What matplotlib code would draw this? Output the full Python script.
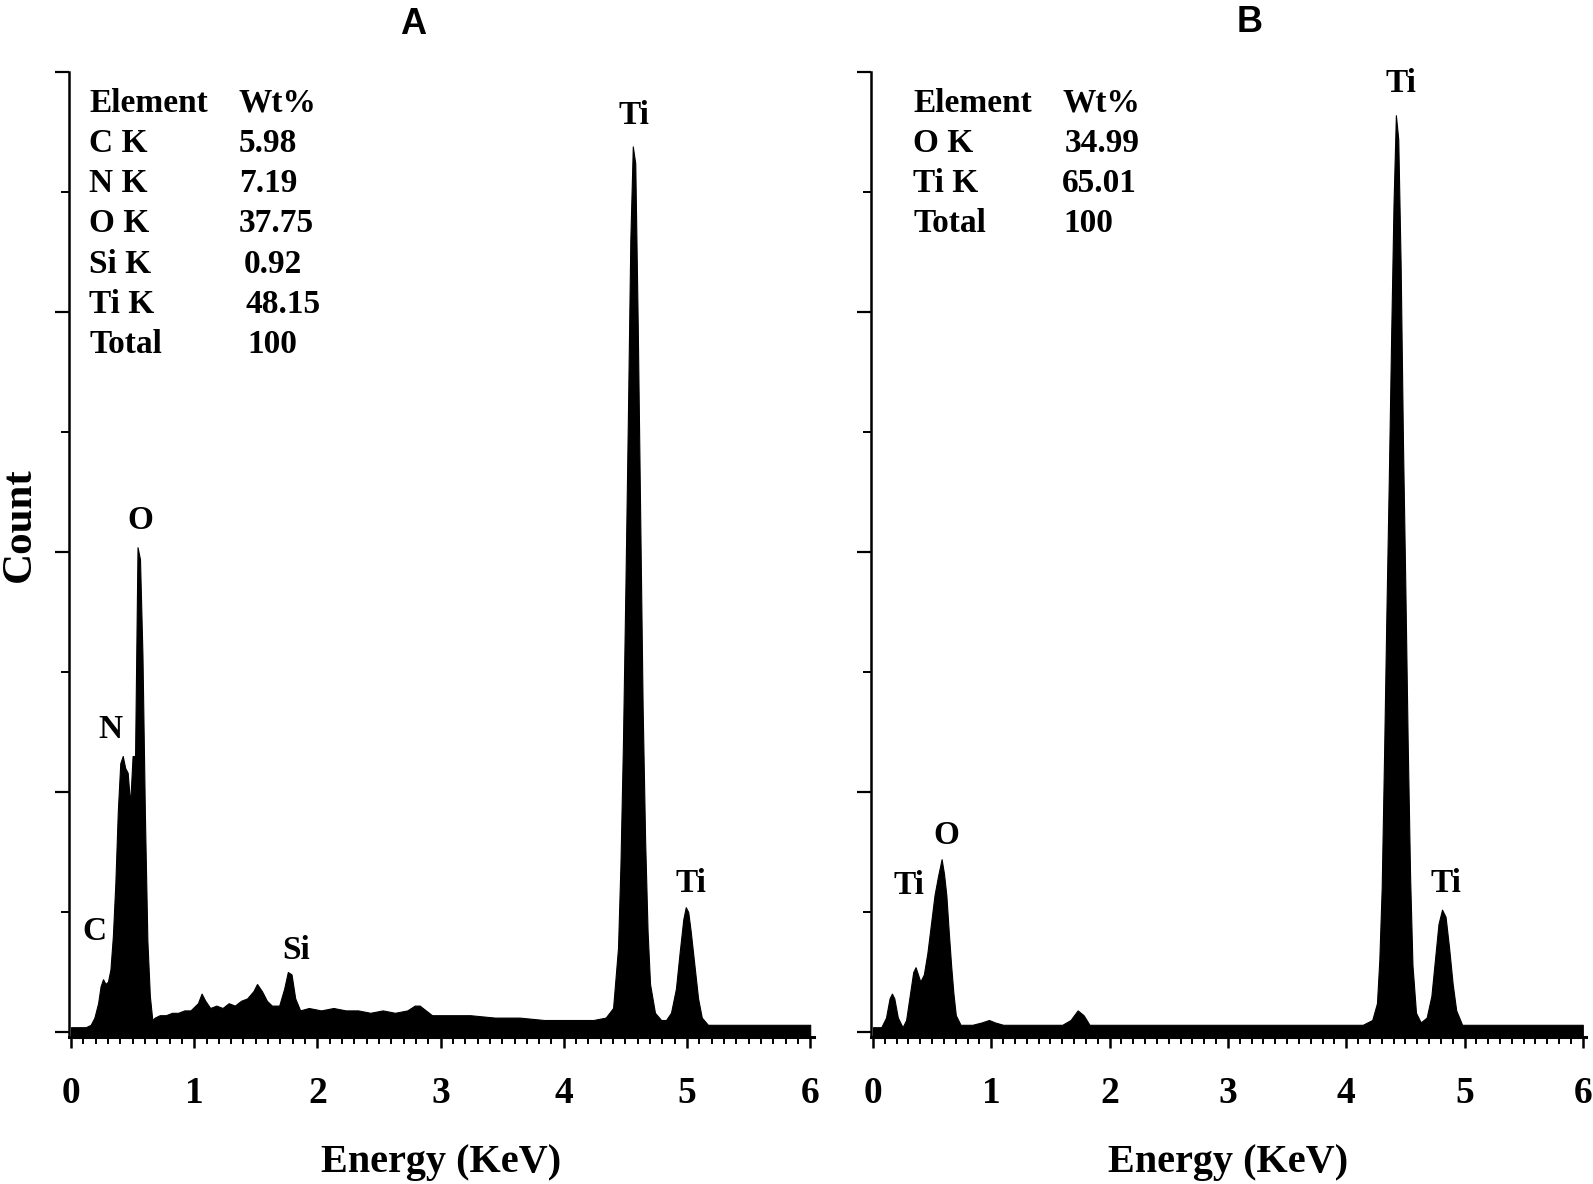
import matplotlib
matplotlib.use('Agg')
import matplotlib.pyplot as plt
import numpy as np
from matplotlib.ticker import MultipleLocator, NullFormatter

# spectrum A (energy in keV, counts in major-tick units)
a_energy = [0.00, 0.12, 0.16, 0.19, 0.22, 0.24, 0.26, 0.28, 0.30, 0.32, 0.34, 0.36, 0.38, 0.40,
            0.42, 0.44, 0.46, 0.48, 0.50, 0.52, 0.54, 0.56, 0.58, 0.60, 0.62, 0.64, 0.66, 0.68,
            0.72, 0.77, 0.82, 0.87, 0.92, 0.97, 1.03, 1.06, 1.09, 1.13, 1.18, 1.23, 1.28, 1.33,
            1.38, 1.43, 1.48, 1.51, 1.55, 1.59, 1.63, 1.69, 1.73, 1.76, 1.79, 1.82, 1.86, 1.93,
            2.03, 2.13, 2.23, 2.33, 2.43, 2.53, 2.63, 2.73, 2.79, 2.83, 2.88, 2.93, 3.04, 3.24,
            3.44, 3.64, 3.84, 4.04, 4.24, 4.34, 4.40, 4.44, 4.46, 4.48, 4.50, 4.52, 4.54, 4.56,
            4.58, 4.60, 4.62, 4.64, 4.66, 4.68, 4.70, 4.74, 4.79, 4.83, 4.87, 4.91, 4.94, 4.97,
            4.99, 5.01, 5.03, 5.06, 5.09, 5.12, 5.17, 5.50, 6.00]
a_counts = [0.02, 0.02, 0.03, 0.06, 0.12, 0.19, 0.22, 0.20, 0.21, 0.26, 0.40, 0.62, 0.92, 1.12,
            1.15, 1.10, 1.08, 0.95, 1.15, 1.15, 2.02, 1.97, 1.57, 0.90, 0.38, 0.15, 0.05, 0.06,
            0.07, 0.07, 0.08, 0.08, 0.09, 0.09, 0.12, 0.16, 0.13, 0.10, 0.11, 0.10, 0.12, 0.11,
            0.13, 0.14, 0.17, 0.20, 0.17, 0.13, 0.11, 0.11, 0.18, 0.25, 0.24, 0.14, 0.09, 0.10,
            0.09, 0.10, 0.09, 0.09, 0.08, 0.09, 0.08, 0.09, 0.11, 0.11, 0.09, 0.07, 0.07, 0.07,
            0.06, 0.06, 0.05, 0.05, 0.05, 0.06, 0.10, 0.35, 0.70, 1.20, 1.85, 2.55, 3.30, 3.69,
            3.62, 2.95, 2.15, 1.35, 0.80, 0.42, 0.20, 0.08, 0.05, 0.05, 0.08, 0.18, 0.33, 0.47,
            0.52, 0.50, 0.42, 0.28, 0.14, 0.06, 0.03, 0.03, 0.03]

# spectrum B
b_energy = [0.00, 0.07, 0.11, 0.14, 0.16, 0.18, 0.21, 0.25, 0.28, 0.31, 0.34, 0.36, 0.38, 0.40,
            0.43, 0.46, 0.49, 0.52, 0.55, 0.58, 0.60, 0.62, 0.64, 0.66, 0.68, 0.70, 0.74, 0.84,
            0.92, 0.98, 1.03, 1.10, 1.35, 1.60, 1.67, 1.73, 1.78, 1.83, 2.03, 2.53, 3.03, 3.53,
            4.14, 4.22, 4.26, 4.28, 4.30, 4.32, 4.34, 4.36, 4.38, 4.40, 4.42, 4.44, 4.46, 4.48,
            4.50, 4.52, 4.54, 4.56, 4.59, 4.63, 4.68, 4.72, 4.75, 4.78, 4.81, 4.84, 4.87, 4.90,
            4.93, 4.98, 5.50, 6.00]
b_counts = [0.02, 0.02, 0.06, 0.14, 0.16, 0.14, 0.06, 0.02, 0.05, 0.15, 0.25, 0.27, 0.24, 0.21,
            0.24, 0.33, 0.45, 0.57, 0.65, 0.72, 0.66, 0.57, 0.42, 0.28, 0.16, 0.07, 0.03, 0.03,
            0.04, 0.05, 0.04, 0.03, 0.03, 0.03, 0.05, 0.09, 0.07, 0.03, 0.03, 0.03, 0.03, 0.03,
            0.03, 0.05, 0.12, 0.30, 0.60, 1.15, 1.75, 2.30, 2.90, 3.45, 3.82, 3.72, 3.20, 2.45,
            1.85, 1.20, 0.65, 0.28, 0.08, 0.04, 0.06, 0.15, 0.30, 0.45, 0.51, 0.48, 0.35, 0.20,
            0.09, 0.03, 0.03, 0.03]

# composition tables
a_elements = ['C K', 'N K', 'O K', 'Si K', 'Ti K', 'Total']
a_wt = ['5.98', '7.19', '37.75', '0.92', '48.15', '100']
b_elements = ['O K', 'Ti K', 'Total']
b_wt = ['34.99', '65.01', '100']

# peak labels (text, energy, counts)
a_peaks = [('Ti', 4.57, 3.82), ('Ti', 5.03, 0.62), ('O', 0.56, 2.13),
           ('N', 0.32, 1.26), ('C', 0.19, 0.42), ('Si', 1.83, 0.34)]
b_peaks = [('Ti', 4.46, 3.95), ('Ti', 4.84, 0.62), ('O', 0.62, 0.82), ('Ti', 0.30, 0.61)]

W, H = 1593, 1184
serif = 'Liberation Serif'
sans = 'Liberation Sans'


def px(x, y):
    return x / W, 1 - y / H


def panel(fig, rect, energy, counts, peaks, elements, wt, el_x, wt_x, title, title_xy):
    ax = fig.add_axes(rect)
    ax.fill_between(energy, counts, -0.02, color='black', linewidth=0.8, edgecolor='black')
    ax.set_xlim(-0.02, 6.03)
    ax.set_ylim(-0.02, 4.0)
    for s in ['top', 'right']:
        ax.spines[s].set_visible(False)
    ax.spines['left'].set_linewidth(1.8)
    ax.spines['bottom'].set_linewidth(2.2)
    ax.xaxis.set_major_locator(MultipleLocator(1))
    ax.xaxis.set_minor_locator(MultipleLocator(0.1))
    ax.yaxis.set_major_locator(MultipleLocator(1))
    ax.yaxis.set_minor_locator(MultipleLocator(0.5))
    ax.yaxis.set_major_formatter(NullFormatter())
    ax.tick_params(axis='x', which='major', direction='out', length=8, width=1.8, pad=20)
    ax.tick_params(axis='x', which='minor', direction='out', length=5, width=1.4)
    ax.tick_params(axis='y', which='major', direction='out', length=10, width=1.6)
    ax.tick_params(axis='y', which='minor', direction='out', length=6, width=1.4)
    for lab in ax.get_xticklabels():
        lab.set_fontfamily(serif)
        lab.set_fontweight('bold')
        lab.set_fontsize(27)
    ax.set_xlabel('Energy (KeV)', fontfamily=serif, fontweight='bold', fontsize=29, labelpad=24)
    for name, ex, cy in peaks:
        ax.text(ex, cy, name, ha='center', va='center', fontfamily=serif,
                fontweight='bold', fontsize=24)
    # table in the upper left
    x0 = ax.get_position().x0 * W
    rows = [('Element', 'Wt%')] + list(zip(elements, wt))
    for i, (el, v) in enumerate(rows):
        yy = 103 + 40.3 * i
        fig.text(*px(x0 + el_x, yy), el, ha='left', va='center', fontfamily=serif,
                 fontweight='bold', fontsize=24)
        fig.text(*px(x0 + wt_x[i], yy), v, ha='left', va='center', fontfamily=serif,
                 fontweight='bold', fontsize=24)
    fig.text(*px(*title_xy), title, ha='center', va='center', fontfamily=sans,
             fontweight='bold', fontsize=26)
    return ax


fig = plt.figure(figsize=(W / 100, H / 100), dpi=100)

# panel A: x 0 at 71 px, 123.2 px per keV; y 0 at 1032 px, 240 px per unit
la = 71 - 0.02 * 123.2
rectA = [la / W, 1 - (1032 + 0.02 * 240) / H, (6.05 * 123.2) / W, (4.02 * 240) / H]
panel(fig, rectA, a_energy, a_counts, a_peaks, a_elements, a_wt, 20.5,
      [169.5, 170, 171, 170, 175.5, 176.5, 179], 'A', (413, 25))

# panel B: x 0 at 873 px, 118.3 px per keV
lb = 873 - 0.02 * 118.3
rectB = [lb / W, 1 - (1032 + 0.02 * 240) / H, (6.05 * 118.3) / W, (4.02 * 240) / H]
panel(fig, rectB, b_energy, b_counts, b_peaks, b_elements, b_wt, 42.4,
      [191.4, 194.4, 191.4, 192.4], 'B', (1250, 22))

fig.text(*px(20, 525), 'Count', rotation=90, ha='center', va='center',
         fontfamily=serif, fontweight='bold', fontsize=31)

fig.savefig('out.png', dpi=100)
